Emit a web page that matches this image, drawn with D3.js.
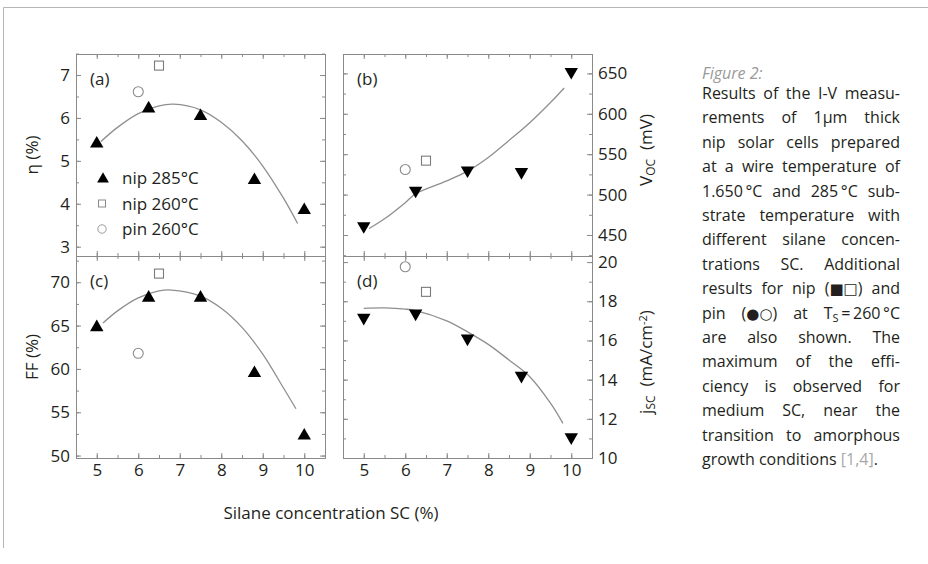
<!DOCTYPE html>
<html>
<head>
<meta charset="utf-8">
<script src="https://cdn.jsdelivr.net/npm/d3@7"></script>
<style>
  body { margin: 0; background: #fff; }
  svg { display: block; font-family: "Open Sans", sans-serif; }
</style>
</head>
<body>
<svg id="chart" width="928" height="564"></svg>
<script>
// silane concentration (%) of the nip 285°C series
const sc = [5, 6.25, 7.5, 8.8, 10];
const etaNip285 = [5.4, 6.22, 6.04, 4.55, 3.85];
const vocNip285 = [461, 505, 530, 528, 652];
const ffNip285 = [64.8, 68.2, 68.2, 59.5, 52.3];
const jscNip285 = [17.16, 17.38, 16.1, 14.2, 11.06];

// single points at 260°C: [eta, voc, ff, jsc]
const scNip260 = 6.5;
const nip260 = [7.22, 542, 71.0, 18.48];
const scPin260 = 6.0;
const pin260 = [6.61, 531, 61.8, 19.76];

// guide curves
const etaFitSc = [5.1, 5.5, 6.0, 6.5, 6.85, 7.5, 8.0, 8.5, 9.0, 9.5, 9.84];
const etaFit = [5.45, 5.78, 6.1, 6.28, 6.32, 6.19, 5.9, 5.47, 4.88, 4.13, 3.54];
const vocFitSc = [5.13, 5.5, 6.0, 6.25, 7.0, 7.5, 8.0, 8.5, 9.0, 9.5, 9.83];
const vocFit = [458, 470, 490, 501, 517, 529, 546, 567, 589, 614, 632];
const ffFitSc = [5.15, 5.5, 6.0, 6.5, 6.8, 7.5, 8.0, 8.5, 9.0, 9.5, 9.8];
const ffFit = [65.3, 66.7, 68.2, 69.0, 69.1, 68.4, 67.0, 64.8, 61.7, 57.8, 55.4];
const jscFitSc = [5.0, 5.5, 6.0, 6.25, 7.0, 7.5, 8.0, 8.5, 9.0, 9.5, 9.8];
const jscFit = [17.64, 17.66, 17.6, 17.52, 17.0, 16.44, 15.8, 15.0, 14.15, 12.8, 11.77];

const xTicks = [5, 6, 7, 8, 9, 10];
const legendLabels = ["nip 285°C", "nip 260°C", "pin 260°C"];

const captionLines = [
  [{ t: "Results of the I-V measu-" }],
  [{ t: "rements of 1µm thick" }],
  [{ t: "nip solar cells prepared" }],
  [{ t: "at a wire temperature of" }],
  [{ t: "1.650\u2009°C and 285\u2009°C sub-" }],
  [{ t: "strate temperature with" }],
  [{ t: "different silane concen-" }],
  [{ t: "trations SC. Additional" }],
  [{ t: "results for nip (" }, { t: "■□", sym: true }, { t: ") and" }],
  [{ t: "pin (" }, { t: "●○", sym: true }, { t: ") at T" }, { t: "S", sub: true }, { t: "\u2009=\u2009260\u2009°C" }],
  [{ t: "are also shown. The" }],
  [{ t: "maximum of the effi-" }],
  [{ t: "ciency is observed for" }],
  [{ t: "medium SC, near the" }],
  [{ t: "transition to amorphous" }],
  [{ t: "growth conditions " }, { t: "[1,4]", grey: true }, { t: "." }]
];

const ink = "#231f20";
const frameCol = "#8a8a8a";
const svg = d3.select("#chart");

// outer page frame
svg.append("path")
  .attr("d", "M928,7.5H3.5V548")
  .attr("fill", "none")
  .attr("stroke", "#b5b5b5");

const panels = [
  { id: "a", x0: 76, x1: 325, y0: 54, y1: 256, dom: [2.783, 7.49], major: d3.range(3, 7.01, 1), minor: d3.range(3, 7.51, 0.5),
    side: "left", vals: etaNip285, k: 0, fitSc: etaFitSc, fit: etaFit, down: false },
  { id: "b", x0: 343, x1: 592, y0: 54, y1: 256, dom: [424, 674], major: d3.range(450, 651, 50), minor: d3.range(425, 675, 25),
    side: "right", vals: vocNip285, k: 1, fitSc: vocFitSc, fit: vocFit, down: true },
  { id: "c", x0: 76, x1: 325, y0: 256, y1: 458, dom: [49.72, 73.03], major: d3.range(50, 71, 5), minor: d3.range(50, 73, 2.5),
    side: "left", vals: ffNip285, k: 2, fitSc: ffFitSc, fit: ffFit, down: false },
  { id: "d", x0: 343, x1: 592, y0: 256, y1: 458, dom: [10, 20.31], major: d3.range(10, 20.1, 2), minor: d3.range(10, 20.1, 1),
    side: "right", vals: jscNip285, k: 3, fitSc: jscFitSc, fit: jscFit, down: true }
];

panels.forEach(p => {
  const x = d3.scaleLinear().domain([4.5, 10.5]).range([p.x0, p.x1]);
  const y = d3.scaleLinear().domain(p.dom).range([p.y1, p.y0]);
  const g = svg.append("g").attr("class", "panel-" + p.id);

  // ticks, all pointing inwards
  const tickAxis = (axis, pos, vals, size, labelled) => {
    const a = axis.tickValues(vals).tickSize(-size).tickPadding(6)
      .tickFormat(labelled ? d3.format("d") : "");
    const ag = g.append("g").attr("transform", pos).call(a);
    ag.select(".domain").remove();
    ag.selectAll("line").attr("stroke", frameCol);
    ag.selectAll("text").attr("fill", ink).style("font-size", "17px").style("font-family", "'Open Sans', sans-serif");
    return ag;
  };

  const halfSteps = d3.range(4.5, 10.51, 0.5);
  const bottomLab = p.id === "c" || p.id === "d";
  tickAxis(d3.axisBottom(x), `translate(0,${p.y1})`, halfSteps, 3, false);
  tickAxis(d3.axisBottom(x), `translate(0,${p.y1})`, xTicks, 5, bottomLab);
  tickAxis(d3.axisTop(x), `translate(0,${p.y0})`, halfSteps, 3, false);
  tickAxis(d3.axisTop(x), `translate(0,${p.y0})`, xTicks, 5, false);

  const isLeft = p.side === "left";
  tickAxis(d3.axisLeft(y), `translate(${p.x0},0)`, p.minor, 3, false);
  tickAxis(d3.axisLeft(y), `translate(${p.x0},0)`, p.major, 5, isLeft);
  tickAxis(d3.axisRight(y), `translate(${p.x1},0)`, p.minor, 3, false);
  tickAxis(d3.axisRight(y), `translate(${p.x1},0)`, p.major, 5, !isLeft);

  g.append("rect")
    .attr("x", p.x0 + 0.5).attr("y", p.y0 + 0.5)
    .attr("width", p.x1 - p.x0).attr("height", p.y1 - p.y0)
    .attr("fill", "none").attr("stroke", frameCol);

  // fitted guide curve
  g.append("path")
    .datum(d3.zip(p.fitSc, p.fit))
    .attr("fill", "none")
    .attr("stroke", "#8f8f8f")
    .attr("stroke-width", 1.3)
    .attr("d", d3.line().x(d => x(d[0])).y(d => y(d[1])).curve(d3.curveCatmullRom));

  // nip 285°C triangles
  g.selectAll(".tri")
    .data(d3.zip(sc, p.vals))
    .join("path")
    .attr("class", "tri")
    .attr("transform", d => `translate(${x(d[0])},${y(d[1])})${p.down ? " rotate(180)" : ""}`)
    .attr("d", d3.symbol(d3.symbolTriangle, 78))
    .attr("fill", "#000");

  // nip 260°C square
  g.append("rect")
    .attr("x", x(scNip260) - 4.5).attr("y", y(nip260[p.k]) - 4.5)
    .attr("width", 9).attr("height", 9)
    .attr("fill", "#fff").attr("stroke", "#7a7a7a").attr("stroke-width", 1.1);

  // pin 260°C circle
  g.append("circle")
    .attr("cx", x(scPin260)).attr("cy", y(pin260[p.k]))
    .attr("r", 5)
    .attr("fill", "none").attr("stroke", "#8a8a8a").attr("stroke-width", 1.1);

  g.append("text")
    .attr("x", p.x0 + 14).attr("y", p.y0 + 31)
    .attr("fill", ink).style("font-size", "17px")
    .text(`(${p.id})`);
});

// legend inside panel (a)
const leg = svg.append("g");
const legY = [178, 203.5, 229];
leg.append("path")
  .attr("transform", `translate(103,${legY[0] + 1})`)
  .attr("d", d3.symbol(d3.symbolTriangle, 60)).attr("fill", "#000");
leg.append("rect").attr("x", 98.5).attr("y", legY[1] - 3.5).attr("width", 7).attr("height", 7)
  .attr("fill", "#fff").attr("stroke", "#8a8a8a");
leg.append("circle").attr("cx", 102).attr("cy", legY[2]).attr("r", 4.2)
  .attr("fill", "none").attr("stroke", "#9a9a9a");
leg.selectAll("text")
  .data(legendLabels)
  .join("text")
  .attr("x", 122).attr("y", (d, i) => legY[i] + 6)
  .attr("fill", ink).style("font-size", "17px")
  .text(d => d);

// axis titles
svg.append("text")
  .attr("x", 331).attr("y", 519).attr("text-anchor", "middle")
  .attr("fill", ink).style("font-size", "17px")
  .text("Silane concentration SC (%)");

const yTitle = (cx, cy, parts) => {
  const t = svg.append("text")
    .attr("transform", `translate(${cx},${cy}) rotate(-90)`)
    .attr("text-anchor", "middle")
    .attr("fill", ink).style("font-size", "17px");
  parts.forEach(s => {
    const ts = t.append("tspan").text(s.t);
    if (s.sub) ts.attr("baseline-shift", "-25%").style("font-size", "12px");
    if (s.sup) ts.attr("baseline-shift", "45%").style("font-size", "11px");
  });
};
yTitle(38, 155, [{ t: "η (%)" }]);
yTitle(38, 357, [{ t: "FF (%)" }]);
yTitle(652, 150, [{ t: "V" }, { t: "OC", sub: true }, { t: "\u00a0 (mV)" }]);
yTitle(652, 362, [{ t: "j" }, { t: "SC", sub: true }, { t: "\u00a0 (mA/cm" }, { t: "-2", sup: true }, { t: ")" }]);

// caption, justified line by line
const capX = 702, capW = 198, capStep = 24.4, capY0 = 99;
svg.append("text")
  .attr("x", capX).attr("y", 79)
  .attr("fill", "#9a9a9a").style("font-size", "16px").style("font-style", "italic")
  .text("Figure 2:");

captionLines.forEach((segs, i) => {
  const t = svg.append("text")
    .attr("x", capX).attr("y", capY0 + i * capStep)
    .attr("fill", ink).style("font-size", "16px");
  segs.forEach(s => {
    const ts = t.append("tspan").text(s.t);
    if (s.sub) ts.attr("baseline-shift", "-30%").style("font-size", "11px");
    if (s.grey) ts.attr("fill", "#a8a8a8");
    if (s.sym) ts.style("font-family", "'DejaVu Sans', sans-serif").style("font-size", "15px");
  });
  if (i < captionLines.length - 1) {
    const gaps = segs.map(s => s.t).join("").split(" ").length - 1;
    const w = t.node().getComputedTextLength();
    if (gaps > 0) t.attr("word-spacing", (capW - w) / gaps);
  }
});
</script>
</body>
</html>
